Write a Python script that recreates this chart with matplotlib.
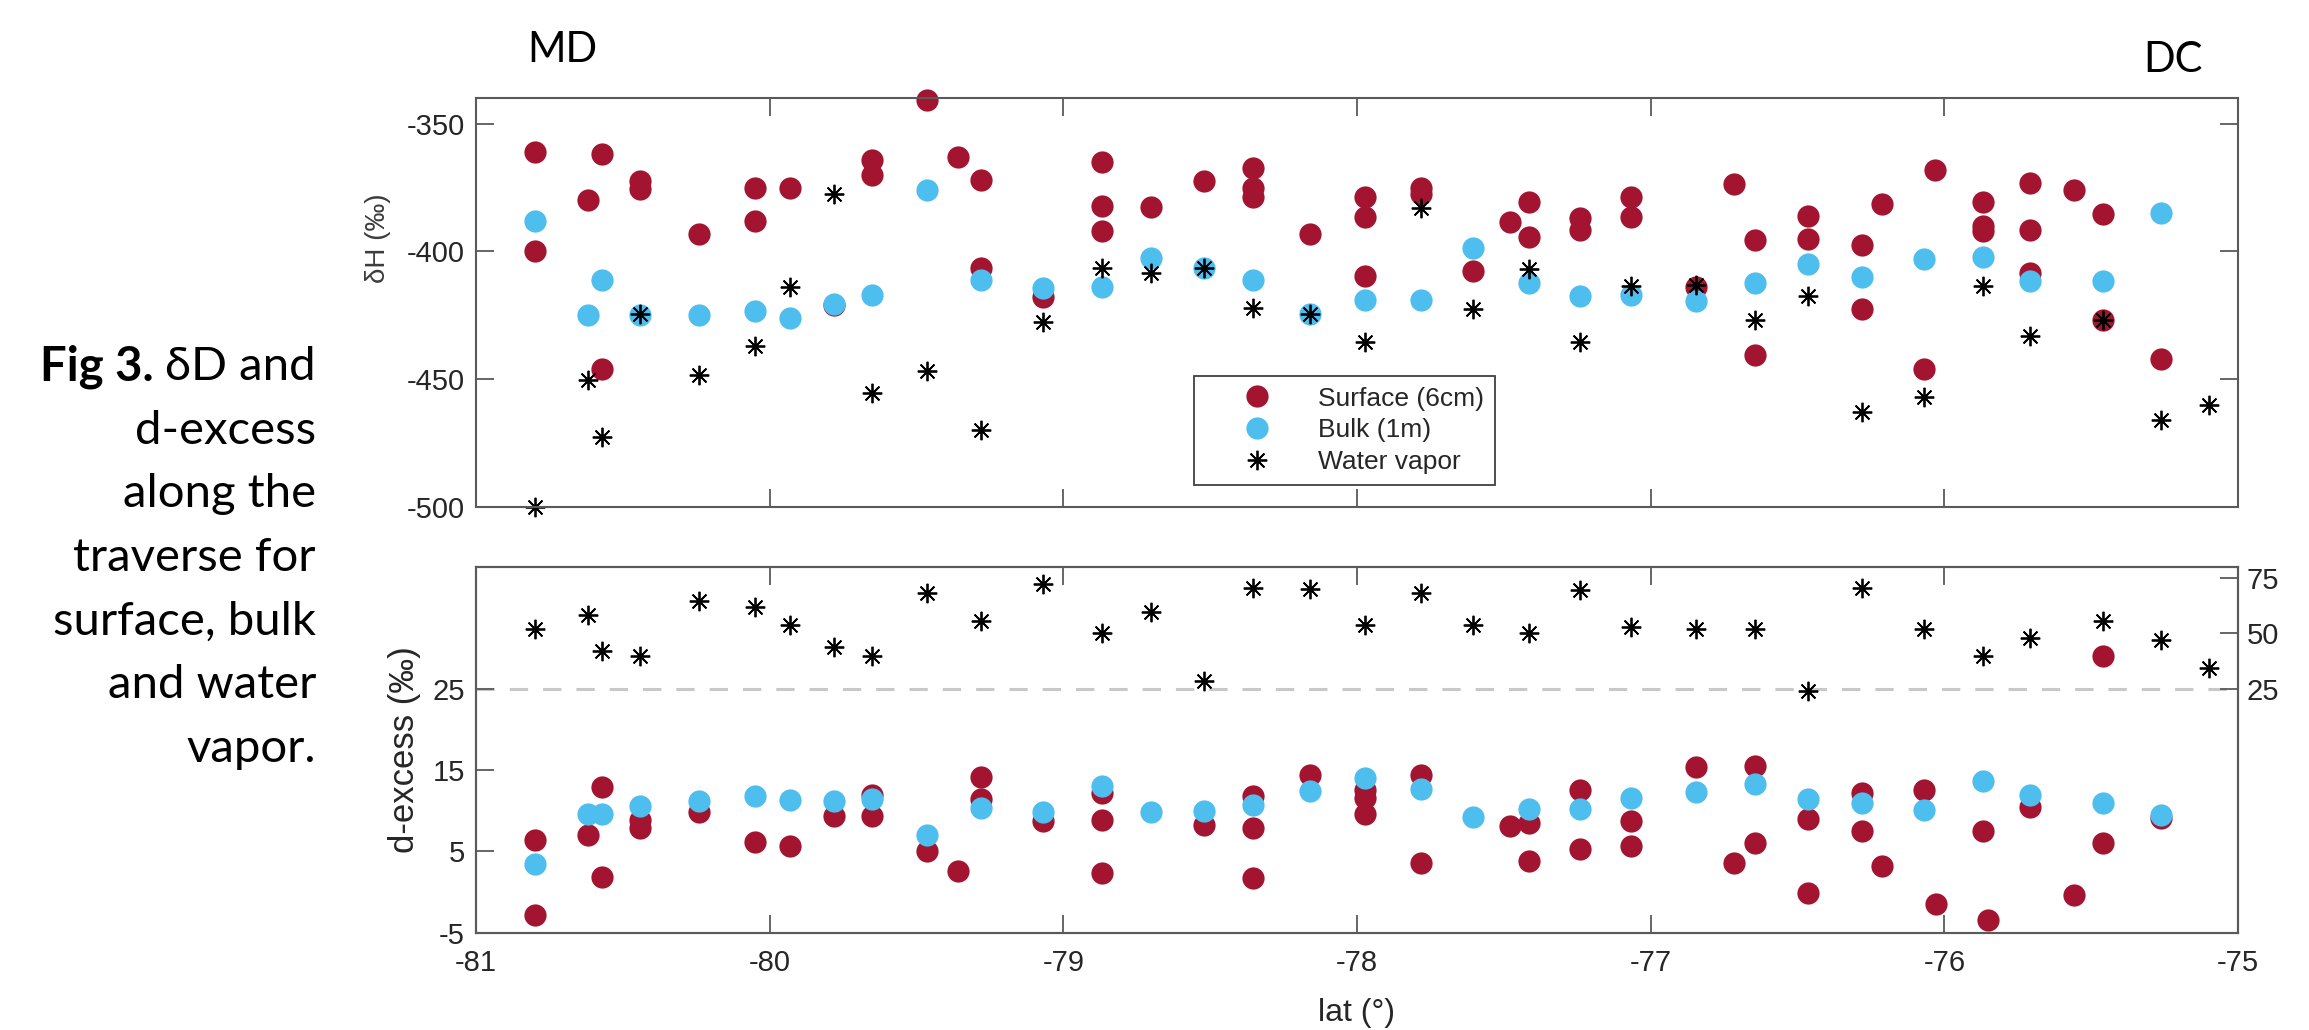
import matplotlib.pyplot as plt

plt.rcdefaults()
plt.rcParams['font.family'] = ['Liberation Sans', 'DejaVu Sans']
plt.rcParams['axes.unicode_minus'] = False

red = '#A2142F'
blue = '#4DBEEE'

# --- top panel: dH (permil) ---
surf_lat = [-80.80, -80.80, -80.62, -80.57, -80.57, -80.44, -80.44, -80.24, -80.05, -80.05,
            -79.93, -79.78, -79.65, -79.65, -79.465, -79.36, -79.28, -79.28, -79.07,
            -78.87, -78.87, -78.87, -78.70, -78.52, -78.355, -78.355, -78.355, -78.16,
            -77.974, -77.974, -77.974, -77.782, -77.782, -77.606, -77.48, -77.416, -77.416,
            -77.242, -77.242, -77.068, -77.068, -76.846, -76.716, -76.645, -76.645,
            -76.464, -76.464, -76.279, -76.279, -76.213, -76.068, -76.033,
            -75.868, -75.868, -75.868, -75.708, -75.708, -75.708, -75.558, -75.46, -75.46, -75.262]
surf_dh = [-361, -400, -380, -362, -446, -372.5, -375.5, -393, -375, -388,
           -375, -421, -364, -370, -340.5, -363, -372, -406.5, -418,
           -365, -382, -392, -382.5, -372.5, -367.5, -375, -378.5, -393,
           -378.5, -386.5, -409.5, -375, -377.5, -407.5, -388.5, -380.5, -394.5,
           -387, -391.5, -378.5, -386.5, -414, -373.5, -395.5, -440.5,
           -386, -395, -397.5, -422.5, -381.5, -446, -368,
           -380.5, -390, -392, -373, -391.5, -408.5, -376, -385.5, -427, -442]

bulk_lat = [-80.80, -80.62, -80.57, -80.44, -80.24, -80.05, -79.93, -79.78, -79.65, -79.465,
            -79.28, -79.07, -78.87, -78.70, -78.52, -78.355, -78.16, -77.974, -77.782,
            -77.606, -77.416, -77.242, -77.068, -76.846, -76.645, -76.464, -76.279,
            -76.068, -75.868, -75.708, -75.46, -75.262]
bulk_dh = [-388, -425, -411, -425, -425, -423.5, -426, -420.5, -417, -376,
           -411, -414.5, -414, -402.5, -406.5, -411, -424.5, -419, -419,
           -398.5, -412.5, -417.5, -417, -419.5, -412.5, -405, -410,
           -403, -402, -411.5, -411.5, -385]

vap_lat = [-80.80, -80.62, -80.57, -80.44, -80.24, -80.05, -79.93, -79.78, -79.65, -79.465,
           -79.28, -79.07, -78.87, -78.70, -78.52, -78.355, -78.16, -77.974, -77.782,
           -77.606, -77.416, -77.242, -77.068, -76.846, -76.645, -76.464, -76.279,
           -76.068, -75.868, -75.708, -75.46, -75.262, -75.10]
vap_dh = [-500, -450.5, -472.5, -424.5, -448.5, -437, -414, -377.5, -455.5, -447,
          -470, -427.5, -406.5, -408.5, -406.5, -422, -424.5, -435.5, -383,
          -422.5, -407, -435.5, -413.5, -413, -427, -417.5, -463,
          -457, -413.5, -433, -427, -466, -460]

# --- bottom panel: d-excess (permil) ---
surf_dx_lat = [-80.80, -80.80, -80.62, -80.57, -80.57, -80.44, -80.44, -80.24, -80.05,
               -79.93, -79.78, -79.65, -79.65, -79.465, -79.36, -79.28, -79.28, -79.07,
               -78.87, -78.87, -78.87, -78.52, -78.355, -78.355, -78.355, -78.16,
               -77.974, -77.974, -77.974, -77.782, -77.782, -77.48, -77.416, -77.416,
               -77.242, -77.242, -77.068, -77.068, -76.846, -76.716, -76.645, -76.645,
               -76.464, -76.464, -76.279, -76.279, -76.213, -76.068, -76.028,
               -75.868, -75.852, -75.708, -75.558, -75.46, -75.46, -75.262]
surf_dx = [6.4, -2.8, 7.0, 12.9, 1.9, 8.9, 7.9, 9.9, 6.2,
           5.7, 9.3, 9.3, 11.9, 5.0, 2.6, 14.1, 11.5, 8.7,
           12.2, 8.8, 2.4, 8.3, 11.8, 7.9, 1.7, 14.4,
           12.6, 11.6, 9.6, 14.4, 3.6, 8.1, 8.5, 3.8,
           12.6, 5.3, 8.7, 5.6, 15.4, 3.6, 15.5, 6.0,
           9.0, -0.1, 12.2, 7.5, 3.2, 12.6, -1.5,
           7.5, -3.4, 10.4, -0.4, 29.0, 6.0, 9.1]

bulk_dx = [3.5, 9.6, 9.6, 10.6, 11.25, 11.8, 11.3, 11.25, 11.5, 7.0,
           10.3, 9.9, 13.0, 9.8, 10.0, 10.7, 12.4, 14.0, 12.7,
           9.2, 10.2, 10.2, 11.6, 12.3, 13.3, 11.4, 11.0,
           10.1, 13.7, 11.9, 11.0, 9.5]

vap_dx = [52.0, 58.1, 41.9, 39.9, 64.5, 61.9, 53.5, 43.8, 39.9, 68.2,
          55.4, 72.3, 50.2, 59.6, 28.6, 70.5, 70.0, 53.5, 68.2,
          53.9, 50.2, 69.3, 52.7, 51.7, 52.0, 23.8, 70.5,
          51.7, 39.9, 47.9, 55.7, 47.1, 34.3]

lat_ticks = [-81, -80, -79, -78, -77, -76, -75]

W, H = 2309, 1030
fig = plt.figure(figsize=(W / 100, H / 100), dpi=100)
ax1 = fig.add_axes([476 / W, 1 - 506.7 / H, 1762 / W, 408.4 / H])
ax2 = fig.add_axes([476 / W, 1 - 932.7 / H, 1762 / W, 366 / H])
ax2r = ax2.twinx()

dot = dict(linestyle='none', marker='o', ms=16, mec='none', clip_on=False)
star = dict(linestyle='none', marker=(8, 2, 0), ms=14, mew=1.3, color='black', clip_on=False)

ax1.plot(surf_lat, surf_dh, color=red, label='Surface (6cm)', **dot)
ax1.plot(bulk_lat, bulk_dh, color=blue, label='Bulk (1m)', **dot)
ax1.plot(vap_lat, vap_dh, label='Water vapor', **star)

ax2.axhline(25, color='#c8c8c8', lw=2.2, ls=(0, (6, 4.9)), zorder=1)
ax2.plot(surf_dx_lat, surf_dx, color=red, **dot)
ax2.plot(bulk_lat, bulk_dx, color=blue, **dot)
ax2r.plot(vap_lat, vap_dx, **star)

spine_c = '#5a5a5a'
text_c = '#262626'
for ax in (ax1, ax2, ax2r):
    ax.set_xlim(-81, -75)
    ax.set_xticks(lat_ticks)
    for s in ax.spines.values():
        s.set_color(spine_c)
        s.set_linewidth(1.5)
    ax.tick_params(direction='in', length=13, width=1.3, color=spine_c,
                   labelsize=21, labelcolor=text_c)

ax1.set_ylim(-500, -340)
ax1.set_yticks([-500, -450, -400, -350])
ax1.tick_params(top=True, right=True, labelbottom=False, pad=8)
ax1.tick_params(axis='x', pad=12)

ax2.set_ylim(-5, 40)
ax2.set_yticks([-5, 5, 15, 25])
ax2.tick_params(top=True, right=False)
ax2.tick_params(axis='y', pad=8)
ax2.tick_params(axis='x', pad=12)
ax2r.set_ylim(-85, 80)
ax2r.set_yticks([25, 50, 75])
ax2r.tick_params(axis='y', pad=6)

ax1.set_ylabel('δH (‰)', fontsize=20, color='#3c3c3c', va='center')
ax1.yaxis.set_label_coords(-0.0556, 0.658)
ax2.set_ylabel('d-excess (‰)', fontsize=25, color=text_c, va='center')
ax2.yaxis.set_label_coords(-0.0403, 0.5)
ax2.set_xlabel('lat (°)', fontsize=23, color=text_c, va='center')
ax2.xaxis.set_label_coords(0.5, -0.219)

leg = ax1.legend(loc='upper left', bbox_to_anchor=(0.4075, 0.32), borderaxespad=0,
                 fontsize=19, fancybox=False, framealpha=1, edgecolor='#404040',
                 handlelength=4, handletextpad=0.3, borderpad=0.4, labelspacing=0.3)
leg.get_frame().set_linewidth(1.3)
for t in leg.get_texts():
    t.set_color(text_c)

# site labels and caption
cap_font = ['Lato', 'DejaVu Sans']
fig.text(527 / W, 1 - 62 / H, 'MD', fontsize=30, family=cap_font, va='baseline')
fig.text(2143 / W, 1 - 72 / H, 'DC', fontsize=30, family=cap_font, va='baseline')

lines = ['d-excess', 'along the', 'traverse for', 'surface, bulk', 'and water', 'vapor.']
x_right = 316 / W
first = fig.text(x_right, 1 - 380 / H, 'δD and', fontsize=34, family=cap_font,
                 ha='right', va='baseline')
fig.canvas.draw()
bb = first.get_window_extent()
fig.text(bb.x0 / W, 1 - 380 / H, 'Fig 3. ', fontsize=34, family=cap_font,
         weight='bold', ha='right', va='baseline')
for i, line in enumerate(lines):
    fig.text(x_right, 1 - (380 + 63.7 * (i + 1)) / H, line, fontsize=34,
             family=cap_font, ha='right', va='baseline')

fig.savefig('out.png', dpi=100)
plt.close()
